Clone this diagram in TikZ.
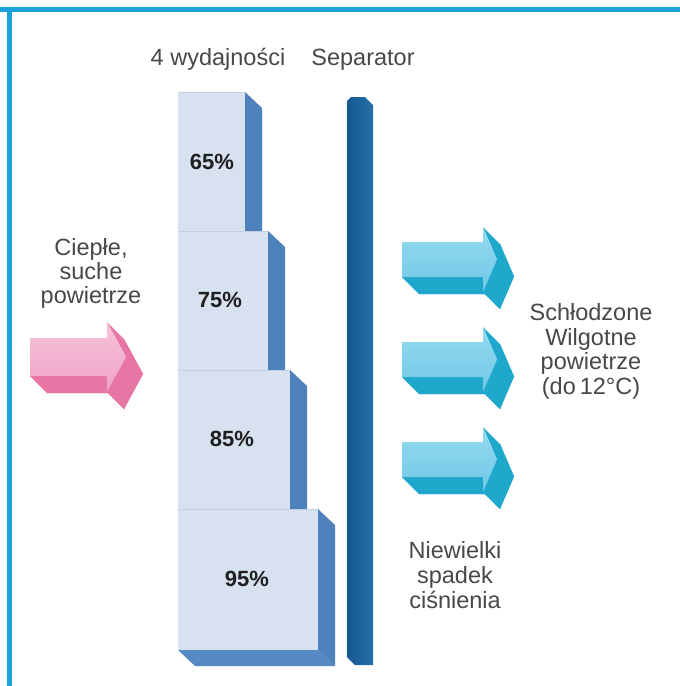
\documentclass[tikz,border=0pt]{standalone}
\usepackage{fontspec}
\setmainfont{Liberation Sans}
\usetikzlibrary{calc}
\definecolor{frameblue}{RGB}{27,161,220}
\definecolor{txtgray}{RGB}{72,72,72}
\definecolor{blockface}{RGB}{216,225,240}
\definecolor{blockline}{RGB}{196,206,222}
\definecolor{blockside}{RGB}{78,130,188}
\definecolor{blockbot}{RGB}{86,138,196}
\definecolor{sepL}{RGB}{22,88,145}
\definecolor{sepR}{RGB}{38,112,170}
\definecolor{cyTop}{RGB}{150,218,240}
\definecolor{cyBot}{RGB}{112,200,230}
\definecolor{cyDark}{RGB}{30,168,204}
\definecolor{pkTop}{RGB}{247,196,218}
\definecolor{pkBot}{RGB}{240,162,198}
\definecolor{pkDark}{RGB}{232,118,164}
\tikzset{
  lbl/.style={font=\fontsize{23.5}{24.5}\selectfont, text=txtgray, inner sep=0pt, anchor=base},
  pct/.style={font=\fontsize{22}{24}\selectfont\bfseries, text=black!88, inner sep=0pt, anchor=center},
}
% #1 x, #2 y (body top-left), #3 body width, #4 body height, #5 head overhang, #6 head length, #7 colour prefix
\newcommand\solidarrow[7]{%
\begin{scope}[shift={(#1,#2)}]
\coordinate (A) at (0,0);
\coordinate (B) at (#3,0);
\coordinate (C) at (#3,-#5);
\coordinate (T) at ({#3+#6},{#4/2});
\coordinate (D) at (#3,{#4+#5});
\coordinate (E) at (#3,#4);
\coordinate (F) at (0,#4);
\fill[#7Dark] (F) -- (E) -- ($(E)+(17,17)$) -- ($(F)+(17,17)$) -- cycle;
\fill[#7Dark] (E) -- (D) -- ($(D)+(17,17)$) -- ($(E)+(17,17)$) -- cycle;
\fill[#7Dark] (D) -- (T) -- ($(T)+(17,17)$) -- ($(D)+(17,17)$) -- cycle;
\fill[#7Dark] (T) -- (C) -- ($(C)+(17,17)$) -- ($(T)+(17,17)$) -- cycle;
\fill[#7Dark] ($(A)+(17,17)$) -- ($(B)+(17,17)$) -- ($(C)+(17,17)$) -- ($(T)+(17,17)$)
   -- ($(D)+(17,17)$) -- ($(E)+(17,17)$) -- ($(F)+(17,17)$) -- cycle;
\shade[top color=#7Top, bottom color=#7Bot] (A) -- (B) -- (C) -- (T) -- (D) -- (E) -- (F) -- cycle;
\end{scope}}
% #1 right x, #2 top y, #3 bottom y
\newcommand\stepblock[3]{%
\fill[blockside] (#1,#2) -- ({#1+17},{#2+16}) -- ({#1+17},{#3+16}) -- (#1,#3) -- cycle;
\fill[blockbot] (178,#3) -- (#1,#3) -- ({#1+17},{#3+16}) -- (195,{#3+16}) -- cycle;
\fill[blockface] (178,#2) rectangle (#1,#3);
\draw[blockline, line width=0.8pt] (178,#2) -- (#1,#2);
}
\begin{document}
\begin{tikzpicture}[x=1pt, y=-1pt]
\useasboundingbox (0,0) rectangle (680,686);
\fill[white] (0,0) rectangle (680,686);
% frame
\draw[frameblue, line width=5pt] (0,9.5) -- (680,9.5);
\draw[frameblue, line width=5pt] (9.5,9.5) -- (9.5,686);
% stepped blocks
\stepblock{245}{92}{231}
\stepblock{268}{231}{370}
\stepblock{290}{370}{509}
\stepblock{318}{509}{650}
\node[pct] (p65) at (212,162) {65\%};
\node[pct] (p75) at (220,300) {75\%};
\node[pct] (p85) at (232,439) {85\%};
\node[pct] (p95) at (247,579) {95\%};
% separator bar
\shade[left color=sepL, right color=sepR] (347,657) -- (347,101) -- (351,97) -- (365,97) -- (373,105) -- (373,665) -- (355,665) -- cycle;
% headings
\node[lbl] (h1) at (218,65.5) {4 wydajności};
\node[lbl] (h2) at (363,65.5) {Separator};
% arrows
\solidarrow{30}{338}{77}{38}{16}{19}{pk}
\solidarrow{402}{242}{81}{35}{15}{14}{cy}
\solidarrow{402}{342}{81}{35}{15}{14}{cy}
\solidarrow{402}{442}{81}{35}{15}{14}{cy}
% left label
\node[lbl] (l1) at (91,255) {Ciepłe,};
\node[lbl] (l2) at (91,279) {suche};
\node[lbl] (l3) at (91,303) {powietrze};
% right label
\node[lbl] (r1) at (591,320) {Schłodzone};
\node[lbl] (r2) at (591,345) {Wilgotne};
\node[lbl] (r3) at (591,369.5) {powietrze};
\node[lbl] (r4) at (591,394) {(do\,12°C)};
% bottom label
\node[lbl] (b1) at (455,558) {Niewielki};
\node[lbl] (b2) at (455,583) {spadek};
\node[lbl] (b3) at (455,608) {ciśnienia};
\end{tikzpicture}
\end{document}
